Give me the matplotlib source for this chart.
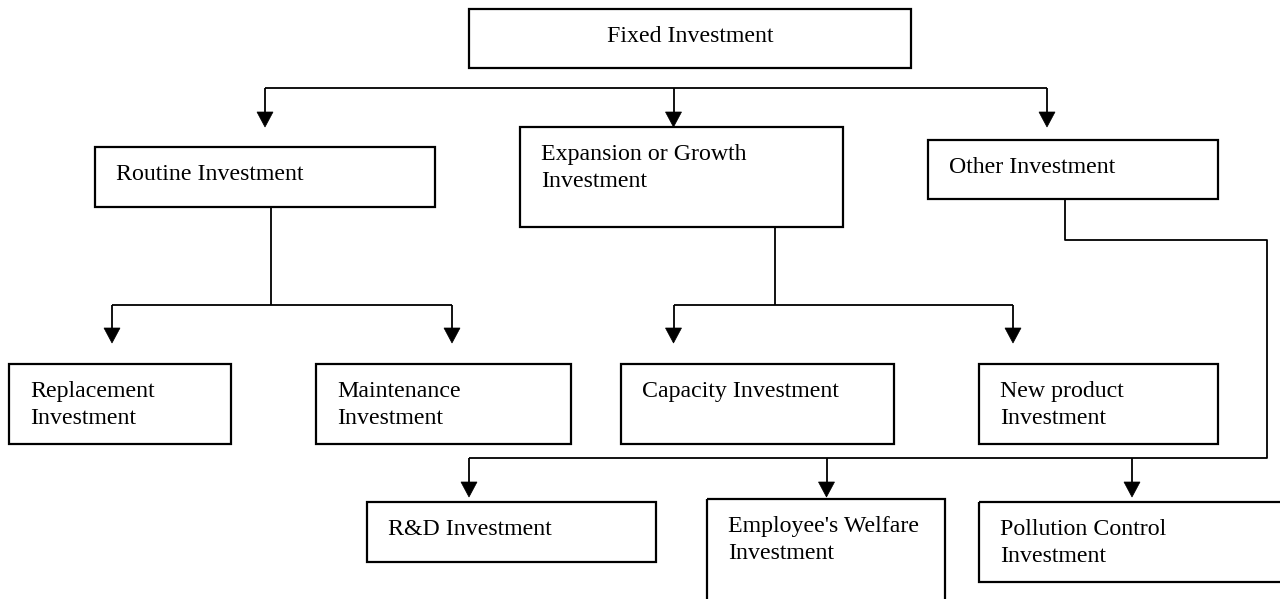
import matplotlib
matplotlib.use("Agg")
import matplotlib.pyplot as plt
from matplotlib.patches import Rectangle, Polygon

# ---- data (labels of the hierarchy) ----
root_label = "Fixed Investment"
level1_labels = ["Routine Investment", "Expansion or Growth\nInvestment", "Other Investment"]
routine_children = ["Replacement\nInvestment", "Maintenance\nInvestment"]
growth_children = ["Capacity Investment", "New product\nInvestment"]
other_children = ["R&D Investment", "Employee's Welfare\nInvestment", "Pollution Control\nInvestment"]

# ---- layout (pixel coordinates, y downwards) ----
root_box = (469, 9, 911, 68)
level1_boxes = [(95, 147, 435, 207), (520, 127, 843, 227), (928, 140, 1218, 199)]
routine_boxes = [(9, 364, 231, 444), (316, 364, 571, 444)]
growth_boxes = [(621, 364, 894, 444), (979, 364, 1218, 444)]
other_boxes = [(367, 502, 656, 562), (707, 499, 945, 640), (979, 502, 1300, 582)]

plt.rcParams['font.family'] = ['Liberation Serif', 'DejaVu Serif']
FS = 17.2
BOX_LW = 1.6
LINE_LW = 1.3

fig = plt.figure(figsize=(12.8, 5.99), dpi=100)
ax = fig.add_axes([0, 0, 1, 1])
ax.set_xlim(0, 1280)
ax.set_ylim(599, 0)
ax.axis('off')


def box(b, text, centered=False):
    x0, y0, x1, y1 = b
    ax.add_patch(Rectangle((x0, y0), x1 - x0, y1 - y0, fill=False,
                           edgecolor='black', linewidth=BOX_LW, zorder=2))
    for i, line in enumerate(text.split("\n")):
        y = y0 + 33 + i * 27
        if centered:
            ax.text((x0 + x1) / 2, y, line, ha='center', va='baseline', fontsize=FS, color='black')
        else:
            ax.text(x0 + 21, y, line, ha='left', va='baseline', fontsize=FS, color='black')


def seg(xs, ys):
    ax.plot(xs, ys, color='black', linewidth=LINE_LW, solid_capstyle='butt', zorder=1)


def arrow(x, y_from, y_tip, head_len=15, head_w=16):
    seg([x, x], [y_from, y_tip - head_len + 1])
    ax.add_patch(Polygon([(x - head_w / 2, y_tip - head_len), (x + head_w / 2, y_tip - head_len),
                          (x, y_tip)], closed=True, facecolor='black', edgecolor='black',
                         linewidth=0.5, zorder=3))


# boxes
box(root_box, root_label, centered=True)
for b, t in zip(level1_boxes, level1_labels):
    box(b, t)
for b, t in zip(routine_boxes, routine_children):
    box(b, t)
for b, t in zip(growth_boxes, growth_children):
    box(b, t)
for b, t in zip(other_boxes, other_children):
    box(b, t)

# root -> level 1
bus_y = 88
arrow_x1 = [265, 673.5, 1047]
seg([arrow_x1[0], arrow_x1[-1]], [bus_y, bus_y])
for x in arrow_x1:
    arrow(x, bus_y, 127)

# routine -> children
seg([271, 271], [207, 305])
rx = [112, 452]
seg([rx[0], rx[1]], [305, 305])
for x in rx:
    arrow(x, 305, 343)

# growth -> children
seg([775, 775], [227, 305])
gx = [673.5, 1013]
seg([gx[0], gx[1]], [305, 305])
for x in gx:
    arrow(x, 305, 343)

# other -> children
seg([1064.5, 1064.5, 1267, 1267, 469], [199, 240, 240, 458, 458])
ox = [469, 826.5, 1132]
for x in ox:
    arrow(x, 458, 497)

fig.savefig("out.png", dpi=100, facecolor='white')
